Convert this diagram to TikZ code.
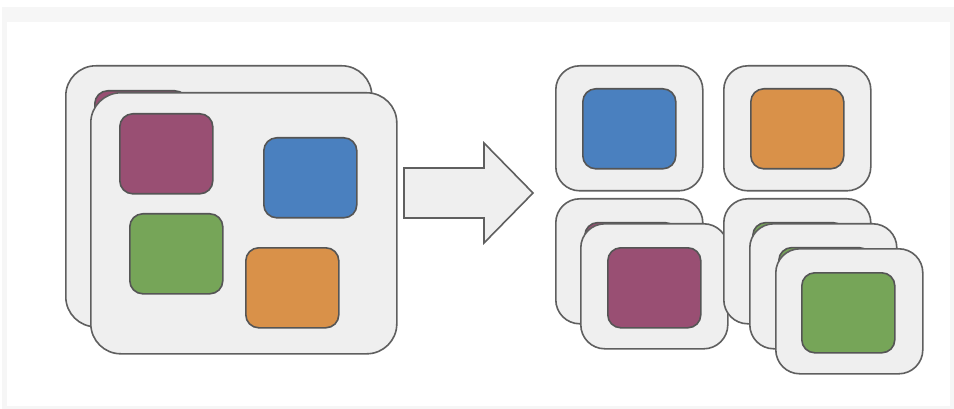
\documentclass[tikz,border=0pt]{standalone}
\usetikzlibrary{positioning}
\definecolor{cardfill}{RGB}{239,239,239}
\definecolor{cardline}{RGB}{95,95,95}
\definecolor{sqline}{RGB}{85,85,85}
\definecolor{cpurple}{RGB}{153,79,115}
\definecolor{cblue}{RGB}{74,128,191}
\definecolor{cgreen}{RGB}{118,165,88}
\definecolor{corange}{RGB}{217,145,73}
\definecolor{framegray}{RGB}{246,246,246}
\tikzset{
  bigcard/.style={draw=cardline, fill=cardfill, line width=1.6pt, rounded corners=30pt,
    inner sep=0pt, anchor=north west, minimum width=306pt, minimum height=261pt},
  smallcard/.style={draw=cardline, fill=cardfill, line width=1.6pt, rounded corners=24pt,
    inner sep=0pt, anchor=north west, minimum width=147pt, minimum height=125pt},
  sq/.style={draw=sqline, fill=#1, line width=1.6pt, rounded corners=13pt,
    inner sep=0pt, anchor=north west, minimum width=93pt, minimum height=80pt},
  bigarrow/.style={draw=cardline, fill=cardfill, line width=1.6pt, line join=miter},
}
\begin{document}
\begin{tikzpicture}[x=1pt, y=-1pt]
\useasboundingbox (0,0) rectangle (954,409);
% frame
\fill[framegray] (2,7) rectangle (954,409);
\fill[white] (7,22) rectangle (950,406);
% left group: back card
\node[bigcard] (lb) at (65,65) {};
\node[sq=cpurple] (lbp) at (94,90) {};
\node[sq=cblue] (lbb) at (238,114) {};
\node[sq=cgreen] (lbg) at (104,190) {};
\node[sq=corange] (lbo) at (220,224) {};
% left group: front card
\node[bigcard] (lf) at (90,92) {};
\node[sq=cpurple] (lfp) at (119,113) {};
\node[sq=cblue] (lfb) at (263,137) {};
\node[sq=cgreen] (lfg) at (129,213) {};
\node[sq=corange] (lfo) at (245,247) {};
% arrow
\coordinate (a1) at (404,168);
\coordinate (a2) at (484,168);
\coordinate (a3) at (484,143);
\coordinate (a4) at (533,193);
\coordinate (a5) at (484,243);
\coordinate (a6) at (484,218);
\coordinate (a7) at (404,218);
\draw[bigarrow] (a1) -- (a2) -- (a3) -- (a4) -- (a5) -- (a6) -- (a7) -- cycle;
% right top
\node[smallcard] (rb) at (555,65) {};
\node[sq=cblue] (rbs) at (582,88) {};
\node[smallcard] (ro) at (723,65) {};
\node[sq=corange] (ros) at (750,88) {};
% right bottom left stack
\node[smallcard] (rp1) at (555,198) {};
\node[sq=cpurple] (rp1s) at (584,221.8) {};
\node[smallcard] (rp2) at (580,223) {};
\node[sq=cpurple] (rp2s) at (607,247) {};
% right bottom right stack
\node[smallcard] (rg1) at (723,198) {};
\node[sq=cgreen] (rg1s) at (752,221.8) {};
\node[smallcard] (rg2) at (749,223) {};
\node[sq=cgreen] (rg2s) at (778,246.8) {};
\node[smallcard] (rg3) at (775,248) {};
\node[sq=cgreen] (rg3s) at (801,272) {};
\end{tikzpicture}
\end{document}
